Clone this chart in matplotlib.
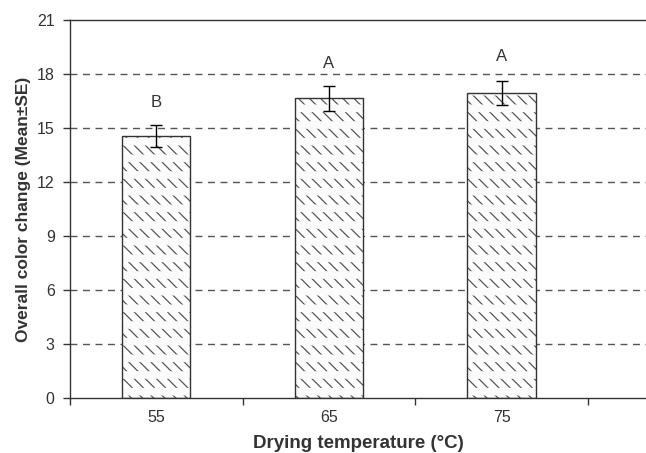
import numpy as np
import matplotlib
matplotlib.use("Agg")
import matplotlib.pyplot as plt

plt.rcParams['font.family'] = ['Liberation Sans', 'DejaVu Sans']

# datos
temperaturas = ['55', '65', '75']
medias = [14.55, 16.65, 16.93]
errores = [0.6, 0.7, 0.66]
letras = ['B', 'A', 'A']
letras_y = [16.4, 18.6, 18.95]
yticks = [0, 3, 6, 9, 12, 15, 18, 21]

fig = plt.figure(figsize=(6.46, 4.53), dpi=100)
ax = fig.add_axes([70 / 646, 55 / 453, 576 / 646, 378 / 453])

x = np.arange(len(temperaturas))
ancho = 0.395
gris = '#333333'

# rejilla discontinua
for v in yticks[1:-1]:
    ax.axhline(v, color='#555555', lw=1, dashes=(5, 4), zorder=0)

# relleno rayado + bandas blancas + contorno
plt.rcParams['hatch.linewidth'] = 0.9
ax.bar(x, medias, ancho, color='white', edgecolor='#555555', hatch='\\' * 3,
       linewidth=0, zorder=2)
plt.rcParams['hatch.linewidth'] = 5.5
ax.bar(x, medias, ancho, fill=False, edgecolor='#fbfbfb', hatch='-',
       linewidth=0, zorder=3)
ax.bar(x, medias, ancho, fill=False, edgecolor=gris, linewidth=1, zorder=4)

ax.errorbar(x, medias, yerr=errores, fmt='none', ecolor='black',
            elinewidth=1, capsize=4, capthick=1, zorder=5)

for xi, t, yl in zip(x, letras, letras_y):
    ax.text(xi, yl, t, ha='center', va='center', fontsize=12, color=gris)

ax.set_ylim(0, 21)
ax.set_xlim(-0.5, -0.5 + 576 / 172.6)
ax.set_yticks(yticks)
ax.set_xticks([-0.5, 0.5, 1.5, 2.5])
ax.set_xticklabels([])
ax.set_xticks(x, minor=True)
ax.set_xticklabels(temperaturas, minor=True)
ax.tick_params(axis='x', which='minor', length=0, pad=9, labelsize=11.5, labelcolor=gris)
ax.tick_params(axis='x', which='major', length=5, width=1, color=gris)
ax.tick_params(axis='y', length=5, width=1, color=gris, labelsize=11.5, labelcolor=gris, pad=6)

for s in ['left', 'bottom', 'top']:
    ax.spines[s].set_color(gris)
    ax.spines[s].set_linewidth(1)
ax.spines['right'].set_visible(False)

ax.set_xlabel('Drying temperature (°C)', fontsize=13.5, fontweight='bold', color=gris, labelpad=7)
ax.set_ylabel('Overall color change (Mean±SE)', fontsize=12.5, fontweight='bold', color=gris, labelpad=4)

fig.savefig('out.png', dpi=100)
